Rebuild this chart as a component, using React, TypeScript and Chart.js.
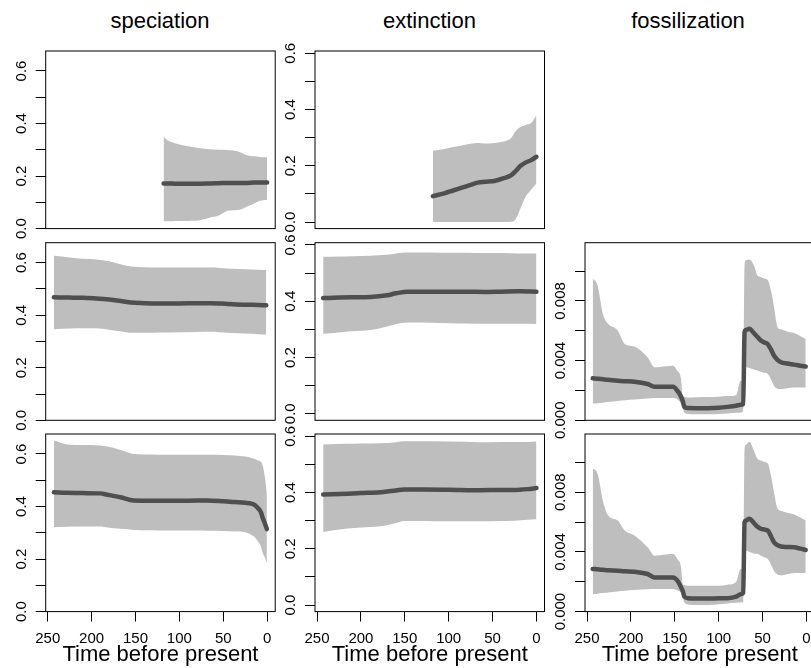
import React, { useEffect, useRef } from 'react';
import { Chart, registerables } from 'chart.js';

Chart.register(...registerables);

// ---------------- data ----------------
const columnTitles = ['speciation', 'extinction', 'fossilization'];
const xAxisTitle = 'Time before present';

const timeTicks = [0, 50, 100, 150, 200, 250];
const timeTickLabels = ['0', '50', '100', '150', '200', '250'];
const rateTicks = [0, 0.1, 0.2, 0.3, 0.4, 0.5, 0.6];
const rateTickLabels = ['0.0', '', '0.2', '', '0.4', '', '0.6'];
const fossilTicks = [0, 0.002, 0.004, 0.006, 0.008, 0.01];
const fossilTickLabels = ['0.000', '', '0.004', '', '0.008', ''];

// row 1, speciation
const spRow1Time = [118, 112, 105, 95, 85, 76, 65, 55, 45, 38, 30, 22, 15, 8, 0];
const spRow1Mean = [0.172, 0.172, 0.171, 0.171, 0.171, 0.171, 0.172, 0.173, 0.174, 0.174, 0.174, 0.174, 0.175, 0.175, 0.175];
const spRow1Upper = [0.35, 0.333, 0.325, 0.316, 0.311, 0.306, 0.302, 0.3, 0.299, 0.297, 0.29, 0.278, 0.275, 0.273, 0.272];
const spRow1Lower = [0.028, 0.028, 0.029, 0.029, 0.03, 0.032, 0.042, 0.05, 0.068, 0.07, 0.073, 0.085, 0.096, 0.106, 0.11];

// row 1, extinction
const exRow1Time = [118, 105, 95, 85, 75, 67, 58, 48, 38, 29, 24, 18, 12, 6, 0];
const exRow1Mean = [0.092, 0.102, 0.112, 0.122, 0.132, 0.14, 0.143, 0.146, 0.155, 0.166, 0.18, 0.2, 0.212, 0.22, 0.232];
const exRow1Upper = [0.253, 0.26, 0.267, 0.272, 0.278, 0.281, 0.279, 0.281, 0.286, 0.298, 0.322, 0.338, 0.345, 0.352, 0.38];
const exRow1Lower = [0, 0, 0, 0, 0, 0, 0, 0, 0, 0.001, 0.008, 0.05, 0.092, 0.115, 0.137];

// row 2, speciation
const spRow2Time = [243, 225, 210, 195, 180, 165, 155, 140, 120, 100, 80, 64, 45, 25, 10, 1];
const spRow2Mean = [0.468, 0.467, 0.466, 0.464, 0.46, 0.453, 0.448, 0.446, 0.445, 0.445, 0.446, 0.446, 0.443, 0.44, 0.439, 0.438];
const spRow2Upper = [0.626, 0.62, 0.615, 0.612, 0.605, 0.592, 0.585, 0.583, 0.582, 0.582, 0.582, 0.582, 0.578, 0.575, 0.573, 0.572];
const spRow2Lower = [0.347, 0.349, 0.35, 0.35, 0.345, 0.338, 0.333, 0.333, 0.334, 0.335, 0.336, 0.337, 0.333, 0.33, 0.328, 0.327];

// row 2, extinction
const exRow2Time = [243, 225, 210, 189, 170, 160, 147, 120, 100, 80, 60, 40, 20, 0];
const exRow2Mean = [0.411, 0.413, 0.414, 0.415, 0.421, 0.428, 0.434, 0.434, 0.434, 0.434, 0.433, 0.434, 0.435, 0.434];
const exRow2Upper = [0.558, 0.559, 0.56, 0.562, 0.565, 0.57, 0.573, 0.573, 0.572, 0.572, 0.571, 0.571, 0.57, 0.57];
const exRow2Lower = [0.284, 0.289, 0.293, 0.298, 0.31, 0.318, 0.324, 0.323, 0.322, 0.321, 0.32, 0.32, 0.32, 0.319];

// row 3, speciation
const spRow3Time = [243, 228, 210, 190, 182, 167, 152, 130, 114, 90, 68, 50, 37, 25, 18, 14, 10.5, 7, 5, 2.5, 0.3];
const spRow3Mean = [0.454, 0.452, 0.451, 0.45, 0.445, 0.435, 0.423, 0.422, 0.422, 0.422, 0.423, 0.42, 0.417, 0.414, 0.411, 0.405, 0.394, 0.378, 0.356, 0.335, 0.314];
const spRow3Upper = [0.651, 0.636, 0.634, 0.632, 0.628, 0.615, 0.6, 0.598, 0.597, 0.597, 0.597, 0.596, 0.594, 0.59, 0.585, 0.581, 0.575, 0.57, 0.555, 0.51, 0.45];
const spRow3Lower = [0.322, 0.323, 0.324, 0.324, 0.32, 0.315, 0.311, 0.31, 0.309, 0.309, 0.308, 0.307, 0.305, 0.302, 0.292, 0.283, 0.267, 0.248, 0.223, 0.205, 0.185];

// row 3, extinction
const exRow3Time = [243, 215, 200, 178, 160, 151, 130, 100, 64, 40, 25, 10, 0];
const exRow3Mean = [0.393, 0.396, 0.398, 0.401, 0.407, 0.411, 0.411, 0.41, 0.408, 0.409, 0.409, 0.412, 0.416];
const exRow3Upper = [0.571, 0.573, 0.574, 0.575, 0.579, 0.582, 0.582, 0.581, 0.579, 0.58, 0.58, 0.58, 0.581];
const exRow3Lower = [0.26, 0.272, 0.276, 0.28, 0.292, 0.299, 0.299, 0.298, 0.298, 0.299, 0.3, 0.303, 0.305];

// fossilization (rows 2 and 3)
const fossilTime = [243.5, 238, 232, 226, 215, 207, 196, 181, 173, 160, 152, 147, 143, 141, 139, 135, 125, 112, 100, 90, 80, 75, 72, 70.5, 69, 65, 60, 56, 52, 48, 44, 40, 37, 33, 29, 22, 14, 7, 0.8];
const foRow2Mean = [0.00281, 0.00278, 0.00275, 0.00272, 0.00265, 0.00262, 0.00259, 0.00243, 0.00225, 0.00225, 0.00225, 0.00198, 0.0016, 0.00131, 0.0009, 0.00082, 0.00081, 0.00081, 0.00084, 0.0009, 0.00098, 0.00104, 0.0011, 0.0059, 0.00605, 0.00613, 0.00585, 0.0056, 0.00535, 0.00522, 0.0051, 0.0047, 0.00434, 0.00405, 0.00389, 0.0038, 0.00373, 0.00366, 0.0036];
const foRow2Upper = [0.0095, 0.00905, 0.00714, 0.00647, 0.00602, 0.00512, 0.00494, 0.00422, 0.00355, 0.00362, 0.00366, 0.0033, 0.0028, 0.00164, 0.00158, 0.00153, 0.00155, 0.00156, 0.00158, 0.00162, 0.0017, 0.00265, 0.00265, 0.0104, 0.01073, 0.01078, 0.0104, 0.00972, 0.0096, 0.0095, 0.00939, 0.0086, 0.0076, 0.00624, 0.0061, 0.00595, 0.00585, 0.00565, 0.00546];
const foRow2Lower = [0.00113, 0.00115, 0.00118, 0.00122, 0.0013, 0.00135, 0.0014, 0.00146, 0.00149, 0.00149, 0.00149, 0.0014, 0.00113, 0.0008, 0.00052, 0.00043, 0.00041, 0.00041, 0.00043, 0.00046, 0.0005, 0.00052, 0.00065, 0.0034, 0.00355, 0.0035, 0.0034, 0.00333, 0.00325, 0.00318, 0.0031, 0.0027, 0.00232, 0.00212, 0.00209, 0.00215, 0.0022, 0.0022, 0.0022];
const foRow3Mean = [0.00286, 0.00283, 0.0028, 0.00277, 0.00274, 0.0027, 0.00267, 0.00252, 0.00229, 0.00229, 0.00229, 0.00207, 0.00165, 0.00139, 0.001, 0.0009, 0.00088, 0.00088, 0.00089, 0.0009, 0.001, 0.00117, 0.00125, 0.006, 0.0061, 0.00622, 0.00595, 0.0057, 0.00555, 0.0055, 0.00543, 0.005, 0.00465, 0.00445, 0.00436, 0.00433, 0.00431, 0.00422, 0.00413];
const foRow3Upper = [0.00959, 0.00925, 0.00745, 0.00644, 0.00611, 0.00543, 0.0051, 0.00431, 0.00375, 0.00382, 0.00387, 0.0035, 0.003, 0.00185, 0.00178, 0.00173, 0.00173, 0.00173, 0.00173, 0.0018, 0.002, 0.00286, 0.00286, 0.0109, 0.01116, 0.01138, 0.0108, 0.01026, 0.01012, 0.01003, 0.00993, 0.009, 0.008, 0.0069, 0.00675, 0.00662, 0.0065, 0.0063, 0.00611];
const foRow3Lower = [0.00117, 0.0012, 0.00124, 0.00128, 0.00134, 0.00139, 0.00144, 0.00149, 0.00151, 0.00151, 0.00151, 0.00142, 0.00128, 0.00095, 0.00061, 0.00048, 0.00045, 0.00045, 0.0005, 0.00055, 0.0006, 0.00061, 0.00061, 0.0039, 0.00409, 0.004, 0.0039, 0.00387, 0.00375, 0.00365, 0.00353, 0.0031, 0.00274, 0.00248, 0.00242, 0.0025, 0.00259, 0.00259, 0.00259];

// ---------------- styling / layout ----------------
const FONT_FAMILY = '"Liberation Sans", Arial, Helvetica, sans-serif';
const TICK_SIZE = 15;
const TITLE_SIZE = 22;
const LINE_COLOR = '#4f4f4f';
const BAND_COLOR = '#bebebe';

const W = 811;
const H = 668;
const COL_LEFT = [45.7, 315, 585];
const ROW_TOP = [51, 242.7, 434];
const BOX_W = 229.5;
const BOX_H = 177.6;
const TITLE_X = [160, 429.5, 688];
const X_MIN = -9.2;
const X_MAX = 252.3;
const RATE_RANGE = { sp: [0, 0.676], ex: [-0.0234, 0.608], fo: [0, 0.0119] };

type PanelCfg = {
  row: number; col: number; kind: 'sp' | 'ex' | 'fo';
  time: number[]; mean: number[]; upper: number[]; lower: number[];
};

const panels: PanelCfg[] = [
  { row: 0, col: 0, kind: 'sp', time: spRow1Time, mean: spRow1Mean, upper: spRow1Upper, lower: spRow1Lower },
  { row: 0, col: 1, kind: 'ex', time: exRow1Time, mean: exRow1Mean, upper: exRow1Upper, lower: exRow1Lower },
  { row: 1, col: 0, kind: 'sp', time: spRow2Time, mean: spRow2Mean, upper: spRow2Upper, lower: spRow2Lower },
  { row: 1, col: 1, kind: 'ex', time: exRow2Time, mean: exRow2Mean, upper: exRow2Upper, lower: exRow2Lower },
  { row: 1, col: 2, kind: 'fo', time: fossilTime, mean: foRow2Mean, upper: foRow2Upper, lower: foRow2Lower },
  { row: 2, col: 0, kind: 'sp', time: spRow3Time, mean: spRow3Mean, upper: spRow3Upper, lower: spRow3Lower },
  { row: 2, col: 1, kind: 'ex', time: exRow3Time, mean: exRow3Mean, upper: exRow3Upper, lower: exRow3Lower },
  { row: 2, col: 2, kind: 'fo', time: fossilTime, mean: foRow3Mean, upper: foRow3Upper, lower: foRow3Lower },
];

function textWidth(text: string, size: number) {
  const ctx = document.createElement('canvas').getContext('2d')!;
  ctx.font = `${size}px ${FONT_FAMILY}`;
  return ctx.measureText(text).width;
}

const boxPlugin = {
  id: 'panelBox',
  afterDraw(chart: any) {
    const { ctx, chartArea } = chart;
    ctx.save();
    ctx.strokeStyle = '#000';
    ctx.lineWidth = 1;
    ctx.strokeRect(chartArea.left, chartArea.top, chartArea.right - chartArea.left, chartArea.bottom - chartArea.top);
    ctx.restore();
  },
};

function geometry(p: PanelCfg) {
  const L = COL_LEFT[p.col];
  const T = ROW_TOP[p.row];
  const B = T + BOX_H;
  const R = L + BOX_W;
  const bottomRow = p.row === 2;
  const cLeft = Math.floor(L - 46);
  const cTop = Math.floor(T - 24);
  const cRight = Math.ceil(R + 12);
  const cBottom = bottomRow ? H : Math.ceil(B + 26);
  return {
    bottomRow,
    cLeft, cTop,
    width: cRight - cLeft,
    height: cBottom - cTop,
    yW: L - cLeft,
    padTop: T - cTop,
    padRight: cRight - R,
    padBottom: bottomRow ? 0 : cBottom - B,
    xH: bottomRow ? H - B : 0,
  };
}

function Panel({ p }: { p: PanelCfg }) {
  const ref = useRef<HTMLCanvasElement>(null);
  const g = geometry(p);
  useEffect(() => {
    const yTicks = p.kind === 'fo' ? fossilTicks : rateTicks;
    const yLabels = p.kind === 'fo' ? fossilTickLabels : rateTickLabels;
    const widest = Math.max(...yLabels.map((s) => textWidth(s, TICK_SIZE)));
    const yPad = 14 - widest / 2;
    const [yMin, yMax] = RATE_RANGE[p.kind];
    const pts = (arr: number[]) => p.time.map((t, i) => ({ x: t, y: arr[i] }));

    const chart = new Chart(ref.current!, {
      type: 'line',
      data: {
        datasets: [
          {
            data: pts(p.mean),
            borderColor: LINE_COLOR,
            borderWidth: 4.5,
            borderCapStyle: 'round',
            borderJoinStyle: 'round',
            pointRadius: 0,
            fill: false,
            cubicInterpolationMode: 'monotone',
          },
          {
            data: pts(p.upper),
            borderColor: 'rgba(0,0,0,0)',
            borderWidth: 0,
            pointRadius: 0,
            backgroundColor: BAND_COLOR,
            fill: '+1',
            cubicInterpolationMode: 'monotone',
          },
          {
            data: pts(p.lower),
            borderColor: 'rgba(0,0,0,0)',
            borderWidth: 0,
            pointRadius: 0,
            fill: false,
            cubicInterpolationMode: 'monotone',
          },
        ],
      } as any,
      options: {
        animation: false,
        responsive: false,
        events: [],
        devicePixelRatio: 1,
        layout: { padding: { left: 0, top: g.padTop, right: g.padRight, bottom: g.padBottom } },
        plugins: { legend: { display: false }, tooltip: { enabled: false }, title: { display: false } },
        scales: {
          x: {
            type: 'linear',
            reverse: true,
            min: X_MIN,
            max: X_MAX,
            display: g.bottomRow,
            afterBuildTicks: (s: any) => { s.ticks = timeTicks.map((v) => ({ value: v })); },
            ...(g.bottomRow ? { afterFit: (s: any) => { s.height = g.xH; } } : {}),
            border: { display: false },
            grid: { display: true, drawOnChartArea: false, drawTicks: true, tickLength: 10, color: '#000', lineWidth: 1 },
            ticks: {
              autoSkip: false,
              maxRotation: 0,
              minRotation: 0,
              padding: 8.5,
              color: '#000',
              font: { family: FONT_FAMILY, size: TICK_SIZE },
              callback: (_v: any, i: number) => timeTickLabels[i],
            },
            title: {
              display: true,
              text: xAxisTitle,
              color: '#000',
              font: { family: FONT_FAMILY, size: TITLE_SIZE },
              padding: { top: 0, bottom: 0 },
            },
          },
          y: {
            type: 'linear',
            min: yMin,
            max: yMax,
            afterBuildTicks: (s: any) => { s.ticks = yTicks.map((v) => ({ value: v })); },
            afterFit: (s: any) => { s.width = g.yW; },
            border: { display: false },
            grid: { display: true, drawOnChartArea: false, drawTicks: true, tickLength: 10, color: '#000', lineWidth: 1 },
            ticks: {
              autoSkip: false,
              minRotation: 90,
              maxRotation: 90,
              crossAlign: 'center',
              padding: yPad,
              color: '#000',
              font: { family: FONT_FAMILY, size: TICK_SIZE },
              callback: (_v: any, i: number) => yLabels[i],
            },
          },
        },
      } as any,
      plugins: [boxPlugin],
    });
    return () => chart.destroy();
  }, []);
  return (
    <canvas
      ref={ref}
      width={g.width}
      height={g.height}
      style={{ position: 'absolute', left: g.cLeft, top: g.cTop, width: g.width, height: g.height }}
    />
  );
}

export default function App() {
  useEffect(() => {
    document.body.style.overflow = 'hidden';
  }, []);
  return (
    <div style={{ position: 'absolute', left: 0, top: 0, width: W, height: H, overflow: 'hidden', background: '#fff' }}>
      {columnTitles.map((t, i) => (
        <div
          key={t}
          style={{
            position: 'absolute',
            left: TITLE_X[i] - 150,
            width: 300,
            top: 9.7,
            textAlign: 'center',
            fontFamily: FONT_FAMILY,
            fontSize: TITLE_SIZE,
            lineHeight: '22px',
            color: '#000',
            whiteSpace: 'nowrap',
          }}
        >
          {t}
        </div>
      ))}
      {panels.map((p) => (
        <Panel key={`${p.row}-${p.col}`} p={p} />
      ))}
    </div>
  );
}
